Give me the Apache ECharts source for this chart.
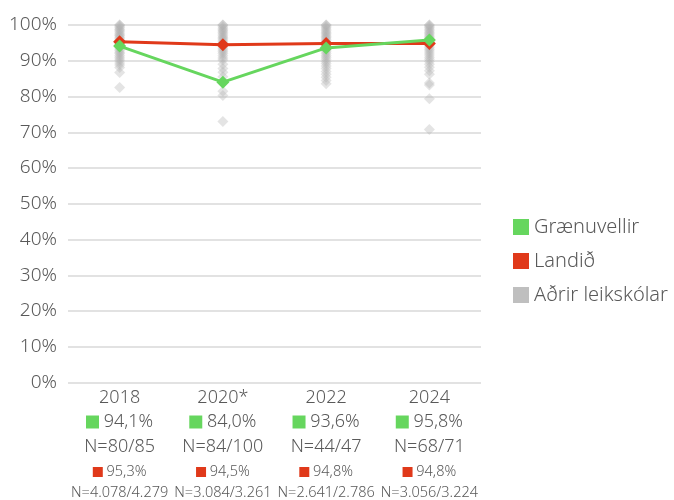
<!DOCTYPE html>
<html>
<head>
<meta charset="utf-8">
<script src="https://cdn.jsdelivr.net/npm/echarts@6/dist/echarts.min.js"></script>
<style>
  html, body { margin: 0; padding: 0; background: #fff; }
  #chart { width: 674px; height: 500px; }
</style>
</head>
<body>
<div id="chart"></div>
<script>
// gögn
const categories = ['2018', '2020*', '2022', '2024'];
const greenName = 'Grænuvellir';
const redName = 'Landið';
const greyName = 'Aðrir leikskólar';

const greenValues = [94.1, 84.0, 93.6, 95.8];
const greenLabels = ['94,1%', '84,0%', '93,6%', '95,8%'];
const greenN = ['N=80/85', 'N=84/100', 'N=44/47', 'N=68/71'];

const redValues = [95.3, 94.5, 94.8, 94.8];
const redLabels = ['95,3%', '94,5%', '94,8%', '94,8%'];
const redN = ['N=4.078/4.279', 'N=3.084/3.261', 'N=2.641/2.786', 'N=3.056/3.224'];

const grey2018 = [100, 100, 99.6, 99.2, 98.8, 98.5, 98.1, 97.7, 97.3, 97.0, 96.6, 96.2, 95.8, 95.4, 95.0, 94.6,
  94.2, 93.8, 93.3, 92.9, 92.4, 92.0, 91.5, 91.0, 90.5, 90.0, 89.4, 88.8, 88.1, 86.7, 82.5];
const grey2020 = [100, 100, 99.5, 99.1, 98.7, 98.3, 97.9, 97.5, 97.0, 96.6, 96.2, 95.8, 95.3, 94.9, 94.4, 94.0,
  93.5, 93.0, 92.5, 92.0, 91.4, 90.8, 90.2, 89.0, 87.8, 86.8, 85.5, 81.5, 80.3, 73.0];
const grey2022 = [100, 100, 99.6, 99.2, 98.8, 98.4, 98.0, 97.6, 97.2, 96.8, 96.4, 96.0, 95.6, 95.2, 94.8, 94.4,
  94.0, 93.5, 93.0, 92.5, 92.0, 91.5, 91.0, 90.4, 89.8, 89.2, 88.5, 87.8, 87.0, 86.2, 85.4, 84.5, 83.6];
const grey2024 = [100, 100, 99.6, 99.2, 98.8, 98.4, 98.0, 97.6, 97.2, 96.8, 96.4, 96.0, 95.6, 95.2, 94.7, 94.2,
  93.7, 93.2, 92.7, 92.2, 91.6, 91.0, 90.4, 89.8, 89.0, 88.2, 87.2, 86.2, 83.8, 83.2, 79.4, 70.8];
const greyByYear = [grey2018, grey2020, grey2022, grey2024];

const yTicks = [0, 10, 20, 30, 40, 50, 60, 70, 80, 90, 100];

const GREEN = '#66d65e';
const RED = '#e0391a';
const GREY = '#b3b3b3';
const TEXT = '#595959';
const FONT = '"Noto Sans", Lato, sans-serif';
const W = 300;

const greyPoints = [];
greyByYear.forEach((vals, i) => vals.forEach(v => greyPoints.push([i, v])));

var myChart = echarts.init(document.getElementById('chart'), null, { renderer: 'canvas' });

var option = {
  animation: false,
  textStyle: { fontFamily: FONT, color: TEXT, fontWeight: W },
  grid: { left: 68, right: 193, top: 25, bottom: 117 },
  legend: {
    orient: 'vertical',
    left: 508,
    top: 212,
    icon: 'rect',
    itemWidth: 16,
    itemHeight: 16,
    itemGap: 14,
    textStyle: { fontFamily: FONT, fontSize: 20, fontWeight: W, color: TEXT },
    data: [
      { name: greenName, itemStyle: { color: GREEN } },
      { name: redName, itemStyle: { color: RED } },
      { name: greyName, itemStyle: { color: '#bfbfbf', opacity: 1 } }
    ]
  },
  xAxis: {
    type: 'category',
    data: categories,
    axisLine: { show: false },
    axisTick: { show: false },
    axisLabel: {
      interval: 0,
      margin: 4,
      fontFamily: FONT,
      color: TEXT,
      formatter: function (value, idx) {
        return '{y|' + value + '}\n' +
          '{g|}{gv| ' + greenLabels[idx] + '}\n' +
          '{n|' + greenN[idx] + '}\n' +
          '{r|}{rv| ' + redLabels[idx] + '}\n' +
          '{rn|' + redN[idx] + '}';
      },
      rich: {
        y: { fontSize: 18, lineHeight: 22, color: TEXT, fontFamily: FONT, fontWeight: W },
        g: { width: 13, height: 13, backgroundColor: GREEN },
        gv: { fontSize: 18, lineHeight: 27, color: TEXT, fontFamily: FONT, fontWeight: W },
        n: { fontSize: 18, lineHeight: 23, color: TEXT, fontFamily: FONT, fontWeight: W },
        r: { width: 10, height: 10, backgroundColor: RED },
        rv: { fontSize: 14.5, lineHeight: 27, color: TEXT, fontFamily: FONT, fontWeight: W },
        rn: { fontSize: 14.5, lineHeight: 14, color: TEXT, fontFamily: FONT, fontWeight: W }
      }
    }
  },
  yAxis: {
    type: 'value',
    min: 0,
    max: 100,
    interval: 10,
    axisLine: { show: false },
    axisTick: { show: false },
    splitLine: { lineStyle: { color: '#d9d9d9', width: 1.5 } },
    axisLabel: {
      margin: 11,
      fontSize: 19,
      fontFamily: FONT,
      fontWeight: W,
      color: TEXT,
      formatter: v => (yTicks.indexOf(v) >= 0 ? v + '%' : '')
    }
  },
  series: [
    {
      name: greyName,
      type: 'scatter',
      data: greyPoints,
      symbol: 'diamond',
      symbolSize: 11,
      itemStyle: { color: GREY, opacity: 0.35 },
      z: 1
    },
    {
      name: redName,
      type: 'line',
      data: redValues,
      symbol: 'diamond',
      symbolSize: 13,
      showSymbol: true,
      lineStyle: { color: RED, width: 3 },
      itemStyle: { color: RED, borderWidth: 0 },
      z: 3
    },
    {
      name: greenName,
      type: 'line',
      data: greenValues,
      symbol: 'diamond',
      symbolSize: 13,
      showSymbol: true,
      lineStyle: { color: GREEN, width: 3 },
      itemStyle: { color: GREEN, borderWidth: 0 },
      z: 4
    }
  ]
};

option && myChart.setOption(option);
</script>
</body>
</html>
